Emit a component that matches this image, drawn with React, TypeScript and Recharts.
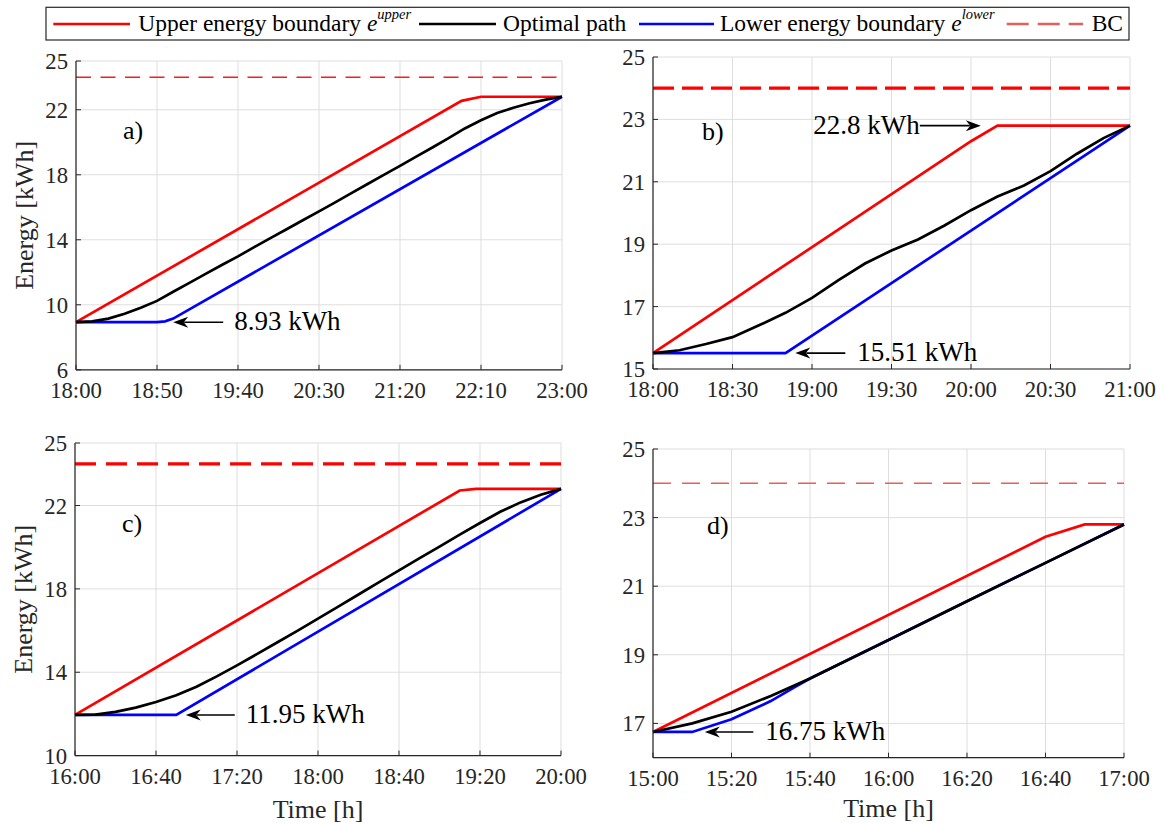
import React from "react";
import {
  LineChart,
  Line,
  XAxis,
  YAxis,
  CartesianGrid,
  ReferenceLine,
  ReferenceDot,
  Label,
} from "recharts";

const FONT = "Liberation Serif, Tinos, DejaVu Serif, serif";
const INK = "#262626";
const GRID = "#dedede";
const RED = "#ff0000";
const BLUE = "#0000ff";
const BLACK = "#000000";

// battery capacity line (BC)
const BC_LEVEL = 24;

// ---- a) 18:00 - 23:00 ----
const tickLabelsA = ["18:00", "18:50", "19:40", "20:30", "21:20", "22:10", "23:00"];
const yTicksA = [6, 10, 14, 18, 22, 25];
const upperTimeA = [0, 238, 250, 300];
const upperA = [8.93, 22.55, 22.8, 22.8];
const lowerTimeA = [0, 50, 55, 60, 300];
const lowerA = [8.93, 8.93, 8.98, 9.15, 22.8];
const optimalTimeA = [0, 10, 20, 30, 40, 50, 60, 70, 80, 90, 100, 110, 120, 130, 140, 150, 160, 170, 180, 190, 200, 210, 220, 230, 240, 250, 260, 270, 280, 290, 300];
const optimalA = [8.93, 8.98, 9.15, 9.45, 9.82, 10.24, 10.8, 11.35, 11.9, 12.45, 12.98, 13.55, 14.1, 14.65, 15.2, 15.75, 16.3, 16.87, 17.43, 17.99, 18.55, 19.12, 19.68, 20.25, 20.85, 21.35, 21.8, 22.12, 22.4, 22.62, 22.8];

// ---- b) 18:00 - 21:00 ----
const tickLabelsB = ["18:00", "18:30", "19:00", "19:30", "20:00", "20:30", "21:00"];
const yTicksB = [15, 17, 19, 21, 23, 25];
const upperTimeB = [0, 120, 130, 180];
const upperB = [15.51, 22.3, 22.8, 22.8];
const lowerTimeB = [0, 50, 180];
const lowerB = [15.51, 15.51, 22.8];
const optimalTimeB = [0, 10, 20, 30, 40, 50, 60, 70, 80, 90, 100, 110, 120, 130, 140, 150, 160, 170, 180];
const optimalB = [15.51, 15.6, 15.8, 16.02, 16.4, 16.8, 17.28, 17.85, 18.38, 18.8, 19.15, 19.6, 20.09, 20.53, 20.88, 21.34, 21.9, 22.4, 22.8];

// ---- c) 16:00 - 20:00 ----
const tickLabelsC = ["16:00", "16:40", "17:20", "18:00", "18:40", "19:20", "20:00"];
const yTicksC = [10, 14, 18, 22, 25];
const upperTimeC = [0, 190, 198, 240];
const upperC = [11.95, 22.72, 22.8, 22.8];
const lowerTimeC = [0, 50, 240];
const lowerC = [11.95, 11.95, 22.8];
const optimalTimeC = [0, 10, 20, 30, 40, 50, 60, 70, 80, 90, 100, 110, 120, 130, 140, 150, 160, 170, 180, 190, 200, 210, 220, 230, 240];
const optimalC = [11.95, 11.97, 12.1, 12.3, 12.57, 12.9, 13.3, 13.8, 14.33, 14.88, 15.44, 16.0, 16.57, 17.15, 17.73, 18.31, 18.89, 19.46, 20.03, 20.6, 21.16, 21.7, 22.15, 22.52, 22.8];

// ---- d) 15:00 - 17:00 ----
const tickLabelsD = ["15:00", "15:20", "15:40", "16:00", "16:20", "16:40", "17:00"];
const yTicksD = [17, 19, 21, 23, 25];
const upperTimeD = [0, 100, 110, 120];
const upperD = [16.75, 22.44, 22.8, 22.8];
const lowerTimeD = [0, 10, 20, 30, 36, 40, 60, 80, 100, 120];
const lowerD = [16.75, 16.75, 17.12, 17.65, 18.05, 18.31, 19.43, 20.56, 21.68, 22.8];
const optimalTimeD = [0, 10, 20, 30, 40, 60, 80, 100, 120];
const optimalD = [16.75, 17.0, 17.34, 17.8, 18.31, 19.43, 20.56, 21.68, 22.8];

const toMin = (s: string) => {
  const [h, m] = s.split(":").map(Number);
  return h * 60 + m;
};
const fmtClock = (m: number) => {
  const h = Math.floor(m / 60);
  const mm = Math.round(m % 60);
  return `${h}:${mm < 10 ? "0" : ""}${mm}`;
};
const pts = (t: number[], v: number[]) => t.map((x, i) => ({ t: x, v: v[i] }));

type Note = { t: number; v: number; dir: "left" | "right"; shaft: number; gap: number };

type PanelCfg = {
  letter: string;
  plot: { x: number; y: number; w: number; h: number };
  letterPos: [number, number];
  tickLabels: string[];
  yDomain: [number, number];
  yTicks: number[];
  upper: { t: number; v: number }[];
  lower: { t: number; v: number }[];
  optimal: { t: number; v: number }[];
  bc: { width: number; dash: string; color: string };
  notes: Note[];
  yLabel: boolean;
  xLabel: boolean;
};

const panels: PanelCfg[] = [
  {
    letter: "a)",
    plot: { x: 76, y: 60.5, w: 486, h: 308.8 },
    letterPos: [47, 78],
    tickLabels: tickLabelsA,
    yDomain: [6, 25],
    yTicks: yTicksA,
    upper: pts(upperTimeA, upperA),
    lower: pts(lowerTimeA, lowerA),
    optimal: pts(optimalTimeA, optimalA),
    bc: { width: 1.6, dash: "15 9.5", color: "#ff1a1a" },
    notes: [{ t: 60, v: lowerA[0], dir: "left", shaft: 50, gap: 11 }],
    yLabel: true,
    xLabel: false,
  },
  {
    letter: "b)",
    plot: { x: 653, y: 57.3, w: 477, h: 312 },
    letterPos: [49, 83],
    tickLabels: tickLabelsB,
    yDomain: [15, 25],
    yTicks: yTicksB,
    upper: pts(upperTimeB, upperB),
    lower: pts(lowerTimeB, lowerB),
    optimal: pts(optimalTimeB, optimalB),
    bc: { width: 3.2, dash: "21 8", color: RED },
    notes: [
      { t: 53.7, v: lowerB[0], dir: "left", shaft: 50, gap: 12 },
      { t: 123.7, v: upperB[2], dir: "right", shaft: 61, gap: 0 },
    ],
    yLabel: false,
    xLabel: false,
  },
  {
    letter: "c)",
    plot: { x: 75, y: 442.7, w: 486, h: 312.6 },
    letterPos: [47, 89.3],
    tickLabels: tickLabelsC,
    yDomain: [10, 25],
    yTicks: yTicksC,
    upper: pts(upperTimeC, upperC),
    lower: pts(lowerTimeC, lowerC),
    optimal: pts(optimalTimeC, optimalC),
    bc: { width: 3.2, dash: "21 10", color: RED },
    notes: [{ t: 54.7, v: lowerC[0], dir: "left", shaft: 49, gap: 11 }],
    yLabel: true,
    xLabel: true,
  },
  {
    letter: "d)",
    plot: { x: 653, y: 449, w: 471, h: 308.7 },
    letterPos: [54, 84.6],
    tickLabels: tickLabelsD,
    yDomain: [16, 25],
    yTicks: yTicksD,
    upper: pts(upperTimeD, upperD),
    lower: pts(lowerTimeD, lowerD),
    optimal: pts(optimalTimeD, optimalD),
    bc: { width: 1.4, dash: "18 11", color: "#f05a5a" },
    notes: [{ t: 13.2, v: lowerD[0], dir: "left", shaft: 48.5, gap: 12 }],
    yLabel: false,
    xLabel: true,
  },
];

function Arrow({ cx, cy, note }: { cx: number; cy: number; note: Note }) {
  const s = note.dir === "left" ? 1 : -1;
  const head = `M ${cx} ${cy} L ${cx + s * 15} ${cy - 5.5} L ${cx + s * 10.5} ${cy} L ${cx + s * 15} ${cy + 5.5} Z`;
  return (
    <g>
      <line x1={cx + s * 11} y1={cy} x2={cx + s * note.shaft} y2={cy} stroke={BLACK} strokeWidth={1.6} />
      <path d={head} fill={BLACK} />
      <text
        x={cx + s * (note.shaft + note.gap)}
        y={cy + 8}
        textAnchor={note.dir === "left" ? "start" : "end"}
        style={{ fontSize: 27, fontFamily: FONT }}
        fill={BLACK}
      >
        {`${note.v} kWh`}
      </text>
    </g>
  );
}

const AX = 75;
const PAD = 15;
const PAD_R = 40;
const LW = 2.7;
// baseline of the "Time [h]" titles, page coordinates
const X_TITLE_BASELINE = 817.5;

function Panel({ cfg }: { cfg: PanelCfg }) {
  const { plot } = cfg;
  const start = toMin(cfg.tickLabels[0]);
  const ticks = cfg.tickLabels.map((l) => toMin(l) - start);
  const span = ticks[ticks.length - 1];
  const width = plot.w + AX + PAD_R;
  const height = plot.h + PAD + AX;
  const tickStyle = { fill: INK, fontSize: 22.7, fontFamily: FONT, style: { fontFamily: FONT } };
  const titleDy = X_TITLE_BASELINE - (plot.y + plot.h);

  return (
    <div style={{ position: "absolute", left: plot.x - AX, top: plot.y - PAD }}>
      <LineChart
        width={width}
        height={height}
        margin={{ top: PAD, right: PAD_R, bottom: 0, left: 0 }}
        style={{ fontFamily: FONT }}
      >
        <CartesianGrid stroke={GRID} strokeWidth={1} />
        <XAxis
          dataKey="t"
          type="number"
          domain={[0, span]}
          ticks={ticks}
          interval={0}
          tickFormatter={(v: number) => fmtClock(start + v)}
          height={AX}
          tickSize={-5}
          tickMargin={17}
          stroke={INK}
          axisLine={{ stroke: INK, strokeWidth: 1.2 }}
          tickLine={{ stroke: INK }}
          tick={tickStyle}
        >
          {cfg.xLabel && (
            <Label
              content={(p: any) => (
                <text
                  x={p.viewBox.x + p.viewBox.width / 2}
                  y={p.viewBox.y + titleDy}
                  textAnchor="middle"
                  style={{ fontSize: 26, fontFamily: FONT }}
                  fill={INK}
                >
                  Time [h]
                </text>
              )}
            />
          )}
        </XAxis>
        <XAxis
          xAxisId="top"
          orientation="top"
          type="number"
          domain={[0, span]}
          ticks={ticks}
          interval={0}
          height={0}
          tick={false}
          tickSize={-5}
          stroke={INK}
          axisLine={{ stroke: INK, strokeWidth: 1.2 }}
          tickLine={{ stroke: INK }}
        />
        <YAxis
          type="number"
          domain={cfg.yDomain}
          ticks={cfg.yTicks}
          interval={0}
          width={AX}
          tickSize={-5}
          tickMargin={13}
          stroke={INK}
          axisLine={{ stroke: INK, strokeWidth: 1.2 }}
          tickLine={{ stroke: INK }}
          tick={tickStyle}
        >
          {cfg.yLabel && (
            <Label
              content={(p: any) => {
                const x = p.viewBox.x + p.viewBox.width - 43;
                const y = p.viewBox.y + p.viewBox.height / 2;
                return (
                  <text
                    x={x}
                    y={y}
                    transform={`rotate(-90 ${x} ${y})`}
                    textAnchor="middle"
                    style={{ fontSize: 26, fontFamily: FONT }}
                    fill={INK}
                  >
                    Energy [kWh]
                  </text>
                );
              }}
            />
          )}
        </YAxis>
        <YAxis
          yAxisId="right"
          orientation="right"
          type="number"
          domain={cfg.yDomain}
          ticks={cfg.yTicks}
          interval={0}
          width={0}
          tick={false}
          tickSize={-5}
          stroke={INK}
          axisLine={{ stroke: INK, strokeWidth: 1.2 }}
          tickLine={{ stroke: INK }}
        />
        <ReferenceLine
          y={BC_LEVEL}
          stroke={cfg.bc.color}
          strokeWidth={cfg.bc.width}
          strokeDasharray={cfg.bc.dash}
        />
        <Line data={cfg.upper} dataKey="v" type="linear" stroke={RED} strokeWidth={LW} dot={false} isAnimationActive={false} />
        <Line data={cfg.lower} dataKey="v" type="linear" stroke={BLUE} strokeWidth={LW} dot={false} isAnimationActive={false} />
        <Line data={cfg.optimal} dataKey="v" type="linear" stroke={BLACK} strokeWidth={LW} dot={false} isAnimationActive={false} />
        {cfg.notes.map((n, i) => (
          <ReferenceDot
            key={i}
            x={n.t}
            y={n.v}
            r={0}
            shape={(p: any) => <Arrow cx={p.cx} cy={p.cy} note={n} />}
          />
        ))}
      </LineChart>
      <svg
        width={width}
        height={height}
        style={{ position: "absolute", left: 0, top: 0, pointerEvents: "none" }}
      >
        <text
          x={AX + cfg.letterPos[0]}
          y={PAD + cfg.letterPos[1]}
          style={{ fontSize: 26, fontFamily: FONT }}
          fill={BLACK}
        >
          {cfg.letter}
        </text>
      </svg>
    </div>
  );
}

function LegendBox() {
  const textStyle = { fontSize: 23.5, fontFamily: FONT, whiteSpace: "pre" as const };
  const sup = { fontSize: 14.5, fontStyle: "italic" as const };
  const y = 30.5;
  return (
    <svg width={1165} height={46} style={{ position: "absolute", left: 0, top: 0 }}>
      <rect x={46} y={7.3} width={1083} height={32.7} fill="#fff" stroke={INK} strokeWidth={1.2} />
      <line x1={53.3} y1={24} x2={130} y2={24} stroke={RED} strokeWidth={2.7} />
      <text x={138.3} y={y} style={textStyle} fill={BLACK}>
        <tspan>{"Upper energy boundary "}</tspan>
        <tspan fontStyle="italic">e</tspan>
        <tspan dy={-12} style={sup}>upper</tspan>
      </text>
      <line x1={419} y1={24} x2={496} y2={24} stroke={BLACK} strokeWidth={2.7} />
      <text x={503} y={y} style={textStyle} fill={BLACK}>Optimal path</text>
      <line x1={639} y1={24} x2={714} y2={24} stroke={BLUE} strokeWidth={2.7} />
      <text x={720} y={y} style={textStyle} fill={BLACK}>
        <tspan>{"Lower energy boundary "}</tspan>
        <tspan fontStyle="italic">e</tspan>
        <tspan dy={-12} style={sup}>lower</tspan>
      </text>
      <line x1={1006.7} y1={24} x2={1083} y2={24} stroke="#e06060" strokeWidth={2.5} strokeDasharray="22 9" />
      <text x={1091.7} y={y} style={textStyle} fill={BLACK}>BC</text>
    </svg>
  );
}

export default function App() {
  return (
    <div
      style={{
        position: "absolute",
        left: 0,
        top: 0,
        width: 1165,
        height: 823,
        background: "#fff",
        overflow: "hidden",
        fontFamily: FONT,
      }}
    >
      {panels.map((p) => (
        <Panel key={p.letter} cfg={p} />
      ))}
      <LegendBox />
    </div>
  );
}
